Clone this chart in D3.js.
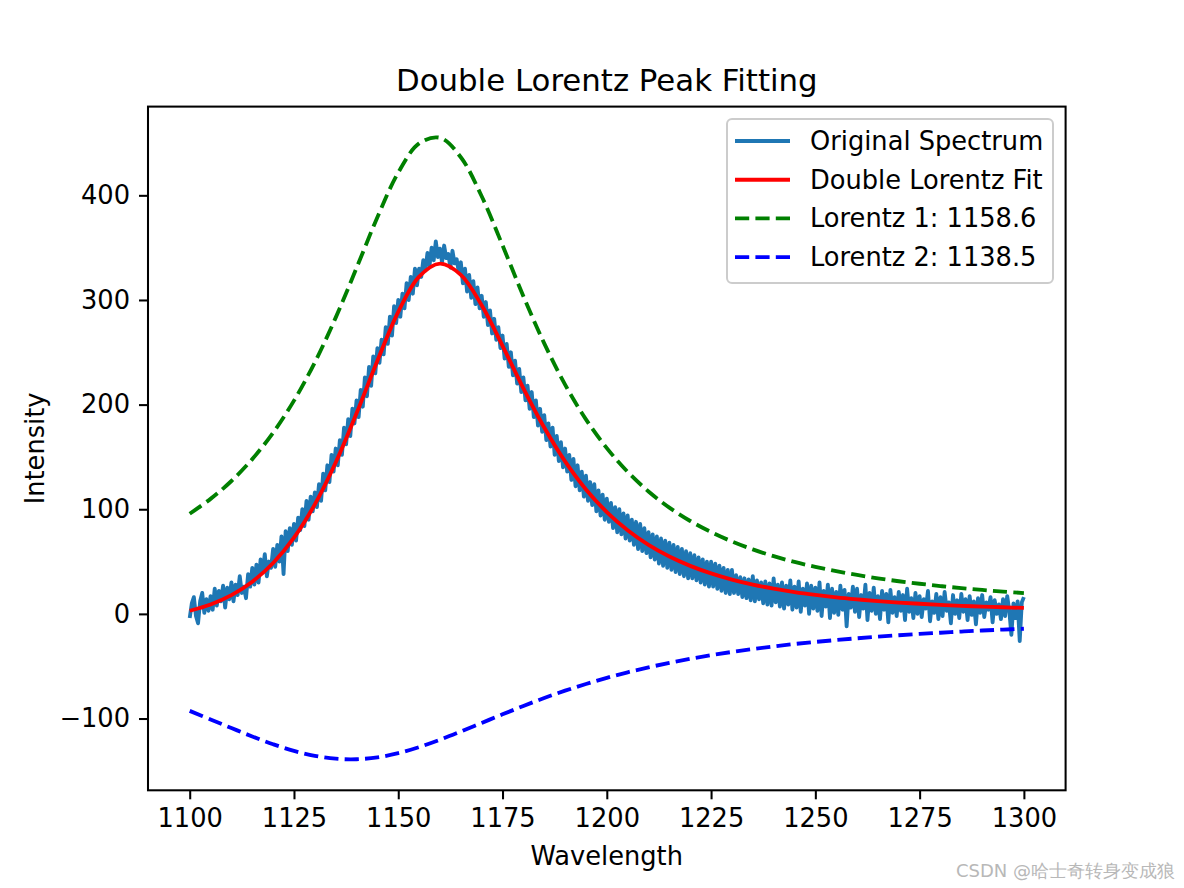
<!DOCTYPE html>
<html>
<head>
<meta charset="utf-8">
<script src="https://cdn.jsdelivr.net/npm/d3@7/dist/d3.min.js"></script>
<style>
  html, body { margin: 0; padding: 0; background: #ffffff; }
  svg { display: block; }
  text { font-family: "DejaVu Sans", sans-serif; fill: #000; }
</style>
</head>
<body>
<script>
// ---------- DATA ----------
const title = "Double Lorentz Peak Fitting";
const xLabel = "Wavelength";
const yLabel = "Intensity";
const xTicks = [1100, 1125, 1150, 1175, 1200, 1225, 1250, 1275, 1300];
const yTicks = [-100, 0, 100, 200, 300, 400];
const seriesNames = ["Original Spectrum", "Double Lorentz Fit", "Lorentz 1: 1158.6", "Lorentz 2: 1138.5"];

// Original spectrum, one value every 0.5 nm from 1100 to 1300
const spectrumStart = 1100;
const spectrumStep = 0.5;
const spectrum = [
  -4, 10, 16, -2, -9, 12, 20, 1, 14, 3,
  17, 4, 24, 8, 22, 12, 27, 6, 25, 14,
  30, 12, 28, 18, 36, 20, 26, 15, 38, 26,
  44, 28, 47, 30, 52, 40, 57, 36, 50, 44,
  62, 45, 66, 50, 74, 38, 79, 60, 82, 66,
  86, 70, 92, 80, 100, 84, 108, 90, 112, 98,
  116, 102, 124, 108, 134, 118, 142, 126, 152, 136,
  158, 142, 166, 152, 178, 162, 186, 170, 196, 182,
  204, 188, 214, 198, 226, 208, 236, 218, 246, 230,
  254, 240, 262, 248, 274, 258, 284, 266, 294, 278,
  300, 284, 306, 292, 316, 300, 322, 306, 330, 314,
  330, 322, 338, 328, 345, 333, 350, 338, 356, 341,
  349, 336, 352, 340, 344, 331, 347, 335, 339, 327,
  336, 316, 330, 308, 324, 302, 318, 296, 312, 292,
  304, 284, 298, 276, 290, 268, 282, 262, 274, 254,
  266, 244, 258, 236, 250, 228, 242, 220, 234, 212,
  226, 204, 218, 196, 212, 188, 204, 180, 196, 174,
  190, 166, 182, 160, 178, 152, 170, 146, 164, 140,
  158, 136, 152, 128, 148, 122, 142, 118, 136, 112,
  132, 108, 126, 104, 124, 98, 118, 94, 114, 90,
  110, 88, 106, 82, 102, 78, 100, 76, 96, 72,
  94, 70, 90, 66, 88, 62, 86, 60, 82, 58,
  78, 54, 76, 52, 74, 48, 72, 46, 70, 44,
  68, 42, 66, 40, 64, 38, 62, 36, 60, 34,
  58, 34, 56, 32, 54, 30, 52, 28, 50, 26,
  50, 26, 48, 24, 46, 22, 44, 20, 42, 19,
  42, 20, 37, 19, 35, 16, 34, 15, 33, 13,
  36, 12, 32, 14, 30, 10, 31, 9, 29, 8,
  34, 11, 28, 7, 30, 5, 27, 9, 32, 4,
  26, 6, 31, 2, 24, 8, 29, 0, 27, 5,
  25, 3, 30, -2, 22, 7, 28, -4, 24, 1,
  21, -1, 27, 4, 23, -12, 19, 6, 26, 2,
  24, -3, 18, 5, 28, -6, 20, 3, 25, 0,
  17, -5, 22, 4, 19, -8, 23, 1, 16, -2,
  21, 3, 18, -6, 24, 2, 15, -4, 20, 0,
  17, -3, 14, 5, 22, -7, 12, 1, 19, -5,
  16, -2, 21, 3, 11, -9, 18, 0, 13, -4,
  19, 2, 14, -6, 17, -1, 12, -10, 15, 1,
  18, -3, 11, 4, 16, -8, 13, 0, 9, -5,
  14, -2, 17, 3, -20, 10, -4, 12, -26, 11,
  16
];

// Smooth curves, one value every 5 nm from 1100 to 1300
const curveX = [1100,1105,1110,1115,1120,1125,1130,1135,1140,1145,1150,1155,1160,1165,1170,1175,1180,1185,1190,1195,1200,
                1205,1210,1215,1220,1225,1230,1235,1240,1245,1250,1255,1260,1265,1270,1275,1280,1285,1290,1295,1300];
const fitValues = [3.0, 9.0, 17.9, 30.7, 48.6, 72.8, 104.7, 144.7, 191.7, 242.0, 288.7, 322.3, 334.7, 324.0, 294.9, 256.2, 215.6, 178.1, 145.7, 118.9, 97.3,
                   79.9, 65.9, 54.8, 45.9, 38.7, 32.8, 28.0, 24.1, 20.8, 18.1, 15.8, 13.9, 12.2, 10.8, 9.7, 8.6, 7.7, 7.0, 6.3, 5.7];
const lorentz1 = [95.7, 109.9, 127.0, 147.9, 173.2, 203.8, 240.4, 283.1, 330.6, 379.1, 421.8, 449.6, 455.0, 436.4, 399.1, 352.2, 303.6, 258.5, 219.1, 185.9, 158.4,
                  135.7, 117.0, 101.6, 88.8, 78.2, 69.2, 61.6, 55.2, 49.6, 44.9, 40.8, 37.2, 34.0, 31.2, 28.8, 26.6, 24.6, 22.9, 21.3, 19.9];
const lorentz2 = [-92.7, -100.9, -109.1, -117.2, -124.6, -131.0, -135.7, -138.4, -138.9, -137.1, -133.1, -127.3, -120.3, -112.4, -104.2, -96.0, -88.0, -80.4, -73.4, -67.0, -61.1,
                  -55.8, -51.1, -46.8, -42.9, -39.5, -36.4, -33.6, -31.1, -28.8, -26.8, -25.0, -23.3, -21.8, -20.4, -19.1, -18.0, -16.9, -15.9, -15.0, -14.2];

const watermark = "CSDN @哈士奇转身变成狼";

// ---------- LAYOUT ----------
const W = 1184, H = 888;
const plot = { left: 148, right: 1065.6, top: 106.6, bottom: 790.3 };
const fs = 25.7; // 10pt at 185 dpi

const svg = d3.select("body").append("svg").attr("width", W).attr("height", H);
svg.append("rect").attr("width", W).attr("height", H).attr("fill", "#fff");

const x = d3.scaleLinear().domain([1090, 1310]).range([plot.left, plot.right]);
const y = d3.scaleLinear().domain([-168.6, 484.8]).range([plot.bottom, plot.top]);

svg.append("clipPath").attr("id", "clip")
  .append("rect").attr("x", plot.left).attr("y", plot.top)
  .attr("width", plot.right - plot.left).attr("height", plot.bottom - plot.top);

const g = svg.append("g").attr("clip-path", "url(#clip)");

const specData = spectrum.map((v, i) => [spectrumStart + i * spectrumStep, v]);
const lineSpec = d3.line().x(d => x(d[0])).y(d => y(d[1]));
const lineSmooth = d3.line().x(d => x(d[0])).y(d => y(d[1])).curve(d3.curveCatmullRom.alpha(0.5));

const lw = 3.85;
const dash = `${(3.7 * lw).toFixed(1)},${(1.6 * lw).toFixed(1)}`;

g.append("path").datum(specData).attr("d", lineSpec)
  .attr("fill", "none").attr("stroke", "#1f77b4").attr("stroke-width", lw)
  .attr("stroke-linejoin", "round").attr("stroke-linecap", "butt");

g.append("path").datum(curveX.map((v, i) => [v, fitValues[i]])).attr("d", lineSmooth)
  .attr("fill", "none").attr("stroke", "#ff0000").attr("stroke-width", lw);

g.append("path").datum(curveX.map((v, i) => [v, lorentz1[i]])).attr("d", lineSmooth)
  .attr("fill", "none").attr("stroke", "#008000").attr("stroke-width", lw)
  .attr("stroke-dasharray", dash);

g.append("path").datum(curveX.map((v, i) => [v, lorentz2[i]])).attr("d", lineSmooth)
  .attr("fill", "none").attr("stroke", "#0000ff").attr("stroke-width", lw)
  .attr("stroke-dasharray", dash);

// ---------- AXES ----------
const xAxis = d3.axisBottom(x).tickValues(xTicks).tickSize(9).tickPadding(9).tickFormat(d3.format("d"));
const yAxis = d3.axisLeft(y).tickValues(yTicks).tickSize(9).tickPadding(9)
  .tickFormat(d => d < 0 ? "\u2212" + Math.abs(d) : String(d));

const gx = svg.append("g").attr("transform", `translate(0,${plot.bottom})`).call(xAxis);
const gy = svg.append("g").attr("transform", `translate(${plot.left},0)`).call(yAxis);
[gx, gy].forEach(a => {
  a.select(".domain").remove();
  a.selectAll(".tick line").attr("stroke", "#000").attr("stroke-width", 2.05);
  a.selectAll(".tick text").attr("font-family", "DejaVu Sans").attr("font-size", fs).attr("fill", "#000");
});

// frame
svg.append("rect").attr("x", plot.left).attr("y", plot.top)
  .attr("width", plot.right - plot.left).attr("height", plot.bottom - plot.top)
  .attr("fill", "none").attr("stroke", "#000").attr("stroke-width", 2.05);

// title & labels
svg.append("text").attr("x", (plot.left + plot.right) / 2).attr("y", 91)
  .attr("text-anchor", "middle").attr("font-size", 30.8).text(title);
svg.append("text").attr("x", (plot.left + plot.right) / 2).attr("y", 865)
  .attr("text-anchor", "middle").attr("font-size", fs).text(xLabel);
svg.append("text").attr("transform", `translate(44,${(plot.top + plot.bottom) / 2}) rotate(-90)`)
  .attr("text-anchor", "middle").attr("font-size", fs).text(yLabel);

// ---------- LEGEND ----------
const legX = 727, legY = 119, legW = 326, legH = 164;
const leg = svg.append("g");
leg.append("rect").attr("x", legX).attr("y", legY).attr("width", legW).attr("height", legH)
  .attr("rx", 5).attr("ry", 5)
  .attr("fill", "#fff").attr("fill-opacity", 0.8)
  .attr("stroke", "#cccccc").attr("stroke-width", 2);
const legStyles = [
  { color: "#1f77b4", dash: null },
  { color: "#ff0000", dash: null },
  { color: "#008000", dash: dash },
  { color: "#0000ff", dash: dash }
];
seriesNames.forEach((name, i) => {
  const cy = 141 + i * 38.7;
  const ln = leg.append("line").attr("x1", 735).attr("x2", 790).attr("y1", cy).attr("y2", cy)
    .attr("stroke", legStyles[i].color).attr("stroke-width", lw);
  if (legStyles[i].dash) ln.attr("stroke-dasharray", legStyles[i].dash);
  leg.append("text").attr("x", 810).attr("y", cy).attr("dy", "0.35em")
    .attr("font-size", fs).text(name);
});

// watermark
svg.append("text").attr("x", 1175).attr("y", 877).attr("text-anchor", "end")
  .attr("font-family", "Noto Sans CJK SC, sans-serif").attr("font-size", 18)
  .style("fill", "#b8b8b8").text(watermark);
</script>
</body>
</html>
